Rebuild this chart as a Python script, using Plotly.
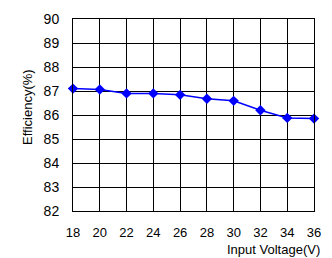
import plotly.graph_objects as go

voltage = [18, 20, 22, 24, 26, 28, 30, 32, 34, 36]
efficiency = [87.1, 87.06, 86.9, 86.9, 86.84, 86.68, 86.59, 86.2, 85.88, 85.85]
x_ticks = [18, 20, 22, 24, 26, 28, 30, 32, 34, 36]
y_ticks = [82, 83, 84, 85, 86, 87, 88, 89, 90]

W, H = 332, 258
L, R, T, B = 73, 11, 16, 47
pw = W - L - R
ph = H - T - B

fig = go.Figure()
fig.add_trace(go.Scatter(
    x=voltage, y=efficiency, mode="lines+markers",
    line=dict(color="#0000FF", width=1.5),
    marker=dict(symbol="diamond", size=8, color="#0000FF"),
    cliponaxis=False,
))

fig.update_layout(
    width=W, height=H,
    margin=dict(l=L, r=R, t=T, b=B),
    paper_bgcolor="white", plot_bgcolor="white",
    showlegend=False,
    font=dict(family="Arial, Liberation Sans, sans-serif", color="black"),
    xaxis=dict(range=[18, 36], tickvals=x_ticks, ticktext=[str(v) for v in x_ticks],
               showgrid=True, gridcolor="black", gridwidth=1,
               showline=True, linecolor="black", linewidth=1, mirror=True,
               zeroline=False, ticks="", tickfont=dict(size=13), ticklabelstandoff=9),
    yaxis=dict(range=[82, 90], tickvals=y_ticks,
               showgrid=True, gridcolor="black", gridwidth=1,
               showline=True, linecolor="black", linewidth=1, mirror=True,
               zeroline=False, ticks="", tickfont=dict(size=14), ticklabelstandoff=10),
    annotations=[
        dict(text="Efficiency(%)", x=(26 - L) / pw, y=(H - B - 105) / ph,
             xref="paper", yref="paper", xanchor="center", yanchor="middle",
             showarrow=False, textangle=-90, font=dict(size=13)),
        dict(text="Input Voltage(V)", x=(329 - L) / pw, y=((H - B) - 250) / ph,
             xref="paper", yref="paper", xanchor="right", yanchor="middle",
             showarrow=False, font=dict(size=13)),
    ],
)

fig.write_html("out.html", config={"displayModeBar": False},
               post_script="document.body.style.margin='0px';document.body.style.overflow='hidden';")
